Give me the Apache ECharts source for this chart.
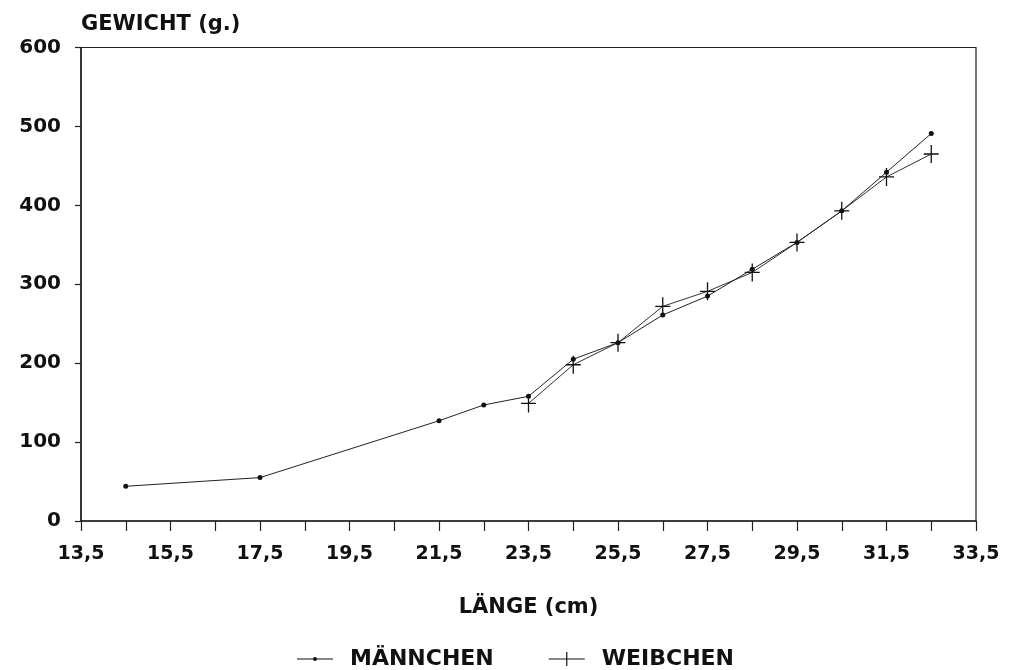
<!DOCTYPE html>
<html>
<head>
<meta charset="utf-8">
<script src="https://cdn.jsdelivr.net/npm/echarts@6/dist/echarts.min.js"></script>
<style>
html,body{margin:0;padding:0;background:#fff;}
#chart{width:1011px;height:670px;}
</style>
</head>
<body>
<div id="chart"></div>
<script>
// Tick labels of the length axis (cm)
var lengthTicks = ['13,5','14,5','15,5','16,5','17,5','18,5','19,5','20,5','21,5','22,5','23,5','24,5','25,5','26,5','27,5','28,5','29,5','30,5','31,5','32,5','33,5'];
// Männchen
var maleLengths = [14.5, 17.5, 21.5, 22.5, 23.5, 24.5, 25.5, 26.5, 27.5, 28.5, 29.5, 30.5, 31.5, 32.5];
var maleWeights = [44, 55, 127, 147, 158, 205, 226, 261, 285, 319, 353, 393, 442, 491];
// Weibchen
var femaleLengths = [23.5, 24.5, 25.5, 26.5, 27.5, 28.5, 29.5, 30.5, 31.5, 32.5];
var femaleWeights = [149, 198, 226, 272, 291, 315, 353, 393, 436, 465];

function toLabel(v){ return String(v).replace('.', ','); }
function pairs(xs, ys){ return xs.map(function(x,i){ return [toLabel(x), ys[i]]; }); }

var FONT = 'DejaVu Sans';
var TXT = '#111';
var crossPath = 'path://M6.4,0 L7.6,0 L7.6,16 L6.4,16 Z M0,7.4 L14,7.4 L14,8.6 L0,8.6 Z';
// legend icons: line with small dot / line with cross (box 36 x 14)
var legendDot = 'path://M0,6.5 L36,6.5 L36,7.5 L0,7.5 Z M16,7 A2,2 0 1,1 20,7 A2,2 0 1,1 16,7 Z';
var legendCross = 'path://M0,6.5 L36,6.5 L36,7.5 L0,7.5 Z M17.4,0 L18.6,0 L18.6,14 L17.4,14 Z';

var chart = echarts.init(document.getElementById('chart'), null, {renderer:'canvas'});
chart.setOption({
  animation: false,
  backgroundColor: '#fff',
  textStyle: {fontFamily: FONT, color: TXT},
  grid: {left: 81, right: 35, top: 47.5, bottom: 149, show: true, borderColor: '#222', borderWidth: 1.2},
  xAxis: {
    type: 'category',
    data: lengthTicks,
    boundaryGap: false,
    name: 'LÄNGE (cm)',
    nameLocation: 'middle',
    nameGap: 76,
    nameTextStyle: {fontFamily: FONT, fontSize: 21, fontWeight: 'bold', color: TXT},
    axisLine: {lineStyle: {color: '#222', width: 1.5}},
    axisTick: {show: true, interval: 0, length: 10, lineStyle: {color: '#222', width: 1.2}},
    axisLabel: {interval: 1, margin: 24, fontFamily: FONT, fontSize: 19, fontWeight: 'bold', color: TXT},
    splitLine: {show: false}
  },
  yAxis: {
    type: 'value',
    min: 0, max: 600, interval: 100,
    name: 'GEWICHT (g.)',
    nameLocation: 'end',
    nameGap: 12,
    nameTextStyle: {fontFamily: FONT, fontSize: 21, fontWeight: 'bold', color: TXT, align: 'left', verticalAlign: 'bottom'},
    axisLine: {show: true, lineStyle: {color: '#222', width: 1.5}},
    axisTick: {show: true, length: 6, lineStyle: {color: '#222', width: 1.2}},
    axisLabel: {margin: 20, fontFamily: FONT, fontSize: 20, fontWeight: 'bold', color: TXT},
    splitLine: {show: false}
  },
  legend: {
    left: 292, top: 643,
    itemWidth: 36, itemHeight: 14, itemGap: 55,
    textStyle: {fontFamily: FONT, fontSize: 22, fontWeight: 'bold', color: TXT, padding: [0,0,0,12]},
    data: [
      {name: 'MÄNNCHEN', icon: legendDot, itemStyle: {color: '#111'}},
      {name: 'WEIBCHEN', icon: legendCross, itemStyle: {color: '#111'}}
    ]
  },
  series: [
    {
      name: 'MÄNNCHEN',
      type: 'line',
      data: pairs(maleLengths, maleWeights),
      symbol: 'circle',
      symbolSize: 5,
      itemStyle: {color: '#111'},
      lineStyle: {color: '#222', width: 1},
      z: 3
    },
    {
      name: 'WEIBCHEN',
      type: 'line',
      data: pairs(femaleLengths, femaleWeights),
      symbol: crossPath,
      symbolSize: [15, 18],
      itemStyle: {color: '#111'},
      lineStyle: {color: '#333', width: 1},
      z: 2
    }
  ]
});
</script>
</body>
</html>
